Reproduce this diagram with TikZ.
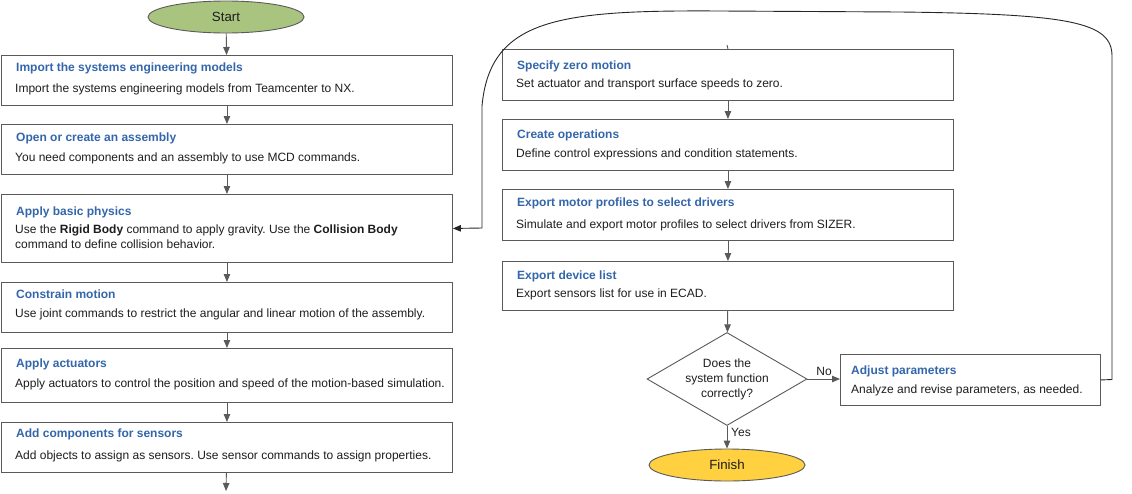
\documentclass[tikz,border=0pt]{standalone}
\usepackage{fontspec}
\setmainfont{Liberation Sans}
\usetikzlibrary{shapes.geometric,arrows.meta}
\definecolor{ttl}{RGB}{51,102,170}
\definecolor{ln}{RGB}{90,90,90}
\definecolor{startc}{RGB}{169,196,127}
\definecolor{finc}{RGB}{255,208,64}
\definecolor{txt}{RGB}{30,30,30}
\frenchspacing
\begin{document}
\begin{tikzpicture}[x=1pt,y=-1pt,
 boxst/.style={draw=ln, line width=0.9pt, fill=white, rectangle, inner sep=0pt, anchor=north west},
 ttlst/.style={anchor=west, inner sep=0pt, font=\fontsize{12}{14}\selectfont\bfseries, text=ttl},
 bodyst/.style={anchor=west, inner sep=0pt, font=\fontsize{12}{15}\selectfont, text=txt, align=left},
 arr/.style={draw=ln, line width=0.9pt, -{Triangle[length=8pt,width=6.5pt]}},
 term/.style={ellipse, draw=ln, line width=0.9pt, minimum width=156pt, minimum height=32pt, inner sep=0pt, font=\fontsize{13.3}{15}\selectfont, text=txt},
 lbl/.style={inner sep=0pt, font=\fontsize{12}{14}\selectfont, text=txt}
]
\useasboundingbox (0,0) rectangle (1132,493);

% left column
\node[term, fill=startc] (start) at (226,17) {Start};

\node[boxst, minimum width=451pt, minimum height=50pt] (b1) at (1,55) {};
\node[ttlst] (b1t) at (16,68.5) {Import the systems engineering models};
\node[bodyst] (b1b) at (15,89.5) {Import the systems engineering models from Teamcenter to NX.};

\node[boxst, minimum width=451pt, minimum height=50pt] (b2) at (1,124) {};
\node[ttlst] (b2t) at (16,138.5) {Open or create an assembly};
\node[bodyst] (b2b) at (15,158.5) {You need components and an assembly to use MCD commands.};

\node[boxst, minimum width=451pt, minimum height=68pt] (b3) at (1,194) {};
\node[ttlst] (b3t) at (16,212.5) {Apply basic physics};
\node[bodyst] (b3b) at (15,237) {Use the \textbf{Rigid Body} command to apply gravity. Use the \textbf{Collision Body}\\command to define collision behavior.};

\node[boxst, minimum width=451pt, minimum height=50pt] (b4) at (1,282) {};
\node[ttlst] (b4t) at (16,294.5) {Constrain motion};
\node[bodyst] (b4b) at (15,314.5) {Use joint commands to restrict the angular and linear motion of the assembly.};

\node[boxst, minimum width=451pt, minimum height=54pt] (b5) at (1,348) {};
\node[ttlst] (b5t) at (16,364.5) {Apply actuators};
\node[bodyst] (b5b) at (15,384.5) {Apply actuators to control the position and speed of the motion-based simulation.};

\node[boxst, minimum width=451pt, minimum height=50pt] (b6) at (1,422) {};
\node[ttlst] (b6t) at (16,434.5) {Add components for sensors};
\node[bodyst] (b6b) at (15,456.5) {Add objects to assign as sensors. Use sensor commands to assign properties.};

\coordinate (bend) at (226,491);

% right column
\node[boxst, minimum width=451pt, minimum height=51pt] (r1) at (502,49) {};
\node[ttlst] (r1t) at (517,66.5) {Specify zero motion};
\node[bodyst] (r1b) at (516,84.5) {Set actuator and transport surface speeds to zero.};

\node[boxst, minimum width=451pt, minimum height=51pt] (r2) at (502,119) {};
\node[ttlst] (r2t) at (517,135.5) {Create operations};
\node[bodyst] (r2b) at (516,154.5) {Define control expressions and condition statements.};

\node[boxst, minimum width=451pt, minimum height=51pt] (r3) at (502,189) {};
\node[ttlst] (r3t) at (517,203.5) {Export motor profiles to select drivers};
\node[bodyst] (r3b) at (516,225.5) {Simulate and export motor profiles to select drivers from SIZER.};

\node[boxst, minimum width=451pt, minimum height=49pt] (r4) at (502,261) {};
\node[ttlst] (r4t) at (517,276.5) {Export device list};
\node[bodyst] (r4b) at (516,294.5) {Export sensors list for use in ECAD.};

\node[diamond, draw=ln, line width=0.9pt, fill=white, aspect=1.7, minimum width=160pt, minimum height=93pt, inner sep=0pt, align=center, font=\fontsize{12}{15}\selectfont, text=txt] (dia) at (727,379) {Does the\\system function\\correctly?};

\node[term, fill=finc] (fin) at (727,465) {Finish};

\node[boxst, minimum width=260pt, minimum height=51pt] (adj) at (840,354) {};
\node[ttlst] (adjt) at (851,371.5) {Adjust parameters};
\node[bodyst] (adjb) at (851,390) {Analyze and revise parameters, as needed.};

\node[lbl] (no) at (824,371) {No};
\node[lbl] (yes) at (741,432) {Yes};

\coordinate (stub) at (727,45);

% connectors
\draw[arr] (start) -- (b1);
\draw[arr] (b1) -- (b2);
\draw[arr] (b2) -- (b3);
\draw[arr] (b3) -- (b4);
\draw[arr] (b4) -- (b5);
\draw[arr] (b5) -- (b6);
\draw[arr] (b6) -- (bend);

\draw[draw=ln, line width=0.9pt] (stub) -- (r1.north);
\draw[arr] (r1) -- (r2);
\draw[arr] (r2) -- (r3);
\draw[arr] (r3) -- (r4);
\draw[arr] (r4) -- (dia);
\draw[arr] (dia.east) -- (adj.west |- dia.east);
\draw[arr] (dia) -- (fin);

\draw[arr, draw=black!85] (adj.east) -- (1112,379.5) -- (1112,56)
  .. controls (1112,22) and (1070,14) .. (900,12) -- (720,11)
  .. controls (560,10) and (490,18) .. (482,106) -- (482,228) -- (b3.east);
\end{tikzpicture}
\end{document}
